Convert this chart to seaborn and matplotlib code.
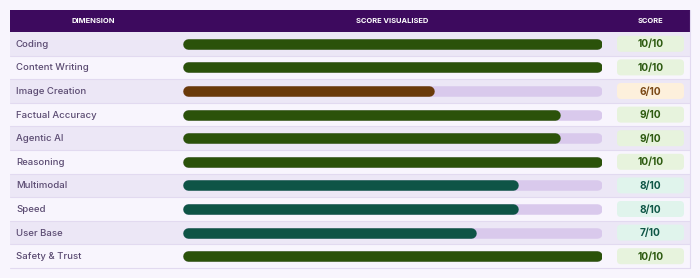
import matplotlib
matplotlib.use("Agg")
import matplotlib.pyplot as plt
import seaborn as sns
from matplotlib.patches import Rectangle, FancyBboxPatch

# data
dimensions = ["Coding", "Content Writing", "Image Creation", "Factual Accuracy",
              "Agentic AI", "Reasoning", "Multimodal", "Speed", "User Base",
              "Safety & Trust"]
scores = [10, 10, 6, 9, 9, 10, 8, 8, 7, 10]
max_score = 10
headers = ["DIMENSION", "SCORE VISUALISED", "SCORE"]

# style
page_bg = "#f8f5fd"
header_bg = "#3d0a5e"
row_alt = "#ece7f6"
sep_col = "#e2daf0"
track_col = "#d9c9ec"
label_col = "#5b4b72"

def tier(s):
    # bar colour, badge background, badge text
    if s >= 9:
        return "#2b520a", "#e7f3dd", "#2d5a10"
    if s >= 7:
        return "#0e5446", "#e0f4ec", "#0f5646"
    return "#6a3a0a", "#fdf0dc", "#7a4815"

sns.set_theme(style="white")
plt.rcParams["font.family"] = ["Inter", "DejaVu Sans"]

W, H = 700, 278
fig = plt.figure(figsize=(W / 100, H / 100), dpi=100, facecolor=page_bg)
ax = fig.add_axes([0, 0, 1, 1])
ax.set_xlim(0, W)
ax.set_ylim(H, 0)
ax.axis("off")

left, right = 10, 690
top, head_h = 10, 22
row_h = 23.6
n = len(dimensions)
bar_x0, bar_x1 = 183, 602
badge_x0, badge_x1 = 617, 684

# header
ax.add_patch(Rectangle((left, top), right - left, head_h, color=header_bg, lw=0))
hy = top + head_h / 2
for txt, cx in zip(headers, [93, (bar_x0 + bar_x1) / 2, (badge_x0 + badge_x1) / 2]):
    ax.text(cx, hy, txt, color="white", fontsize=5.4, fontweight="bold",
            ha="center", va="center")

# rows
y0 = top + head_h
for i, (dim, s) in enumerate(zip(dimensions, scores)):
    ry = y0 + i * row_h
    fc = row_alt if i % 2 == 0 else page_bg
    ax.add_patch(Rectangle((left, ry), right - left, row_h, color=fc, lw=0))
    ax.plot([left, right], [ry + row_h, ry + row_h], color=sep_col, lw=0.8)
    cy = ry + row_h / 2
    ax.text(16, cy + 0.5, dim, color=label_col, fontsize=6.9, fontweight="medium",
            ha="left", va="center")
    _, bbg, btxt = tier(s)
    ax.add_patch(FancyBboxPatch((badge_x0 + 4, cy - 8 + 4), badge_x1 - badge_x0 - 8, 8,
                                boxstyle="round,pad=4", fc=bbg, ec="none"))
    ax.text((badge_x0 + badge_x1) / 2, cy + 0.5, f"{s}/{max_score}", color=btxt,
            fontsize=7.3, fontweight="bold", ha="center", va="center")
ax.plot([right, right], [top, y0 + n * row_h], color=sep_col, lw=0.8)

# bar column on its own score scale
bax = fig.add_axes([bar_x0 / W, 1 - (y0 + n * row_h) / H,
                    (bar_x1 - bar_x0) / W, n * row_h / H])
bax.set_xlim(0, max_score)
bax.set_ylim(n - 0.5, -0.5)
bax.axis("off")
bax.patch.set_alpha(0)
bar_px = 10.5
r = (bar_px / 2) / ((bar_x1 - bar_x0) / max_score)
lw = bar_px * 72 / 100
for i, s in enumerate(scores):
    bc, _, _ = tier(s)
    bax.plot([r, max_score - r], [i, i], color=track_col, lw=lw, solid_capstyle="round")
    bax.plot([r, s - r], [i, i], color=bc, lw=lw, solid_capstyle="round")

fig.savefig("out.png", dpi=100, facecolor=page_bg)
